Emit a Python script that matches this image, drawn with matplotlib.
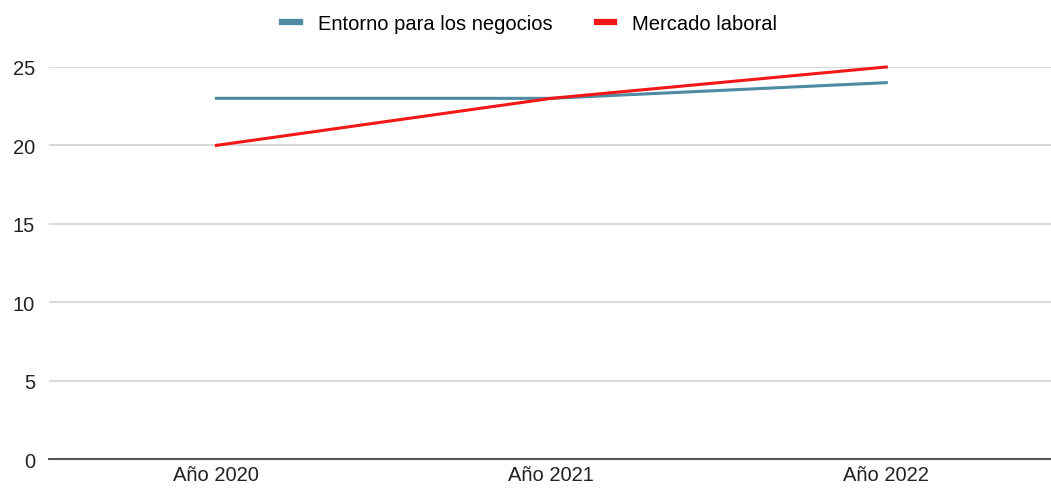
import matplotlib
matplotlib.use("Agg")
import matplotlib.pyplot as plt
from matplotlib.lines import Line2D

categories = ["Año 2020", "Año 2021", "Año 2022"]
entorno = [23, 23, 24]
mercado = [20, 23, 25]
yticks = [0, 5, 10, 15, 20, 25]

plt.rcParams['font.family'] = ['Liberation Sans', 'DejaVu Sans']

FS = 14.5
fig = plt.figure(figsize=(10.51, 4.89), dpi=100)
ax = fig.add_axes([0.0466, 0.0593, 0.956, 0.8017])
x = list(range(len(categories)))
ax.plot(x, entorno, color='#4f8aa3', lw=2.2, clip_on=False, zorder=3, label='Entorno para los negocios')
ax.plot(x, mercado, color='#f21818', lw=2.2, clip_on=False, zorder=4, label='Mercado laboral')
ax.set_xlim(-0.5, 2.5)
ax.set_ylim(0, 25)
ax.set_yticks(yticks)
ax.set_xticks(x)
ax.set_xticklabels(categories, fontsize=FS, color='#222222')
ax.set_yticklabels([str(v) for v in yticks], fontsize=FS, color='#222222')
ax.grid(axis='y', color='#d9d9d9', lw=1.5)
ax.set_axisbelow(True)
for s in ['top', 'right', 'left']:
    ax.spines[s].set_visible(False)
ax.spines['bottom'].set_color('#555555')
ax.spines['bottom'].set_linewidth(1.5)
ax.tick_params(axis='both', length=0, pad=10)
ax.tick_params(axis='x', pad=4)

handles = [Line2D([], [], color='#4f8aa3', lw=4.5), Line2D([], [], color='#f21818', lw=4.5)]
fig.legend(handles, ['Entorno para los negocios', 'Mercado laboral'], loc='center',
           bbox_to_anchor=(0.504, 0.949), ncol=2, frameon=False, fontsize=FS,
           handlelength=0.85, columnspacing=2.2, handletextpad=0.9)
fig.savefig('out.png', dpi=100, facecolor='white')
